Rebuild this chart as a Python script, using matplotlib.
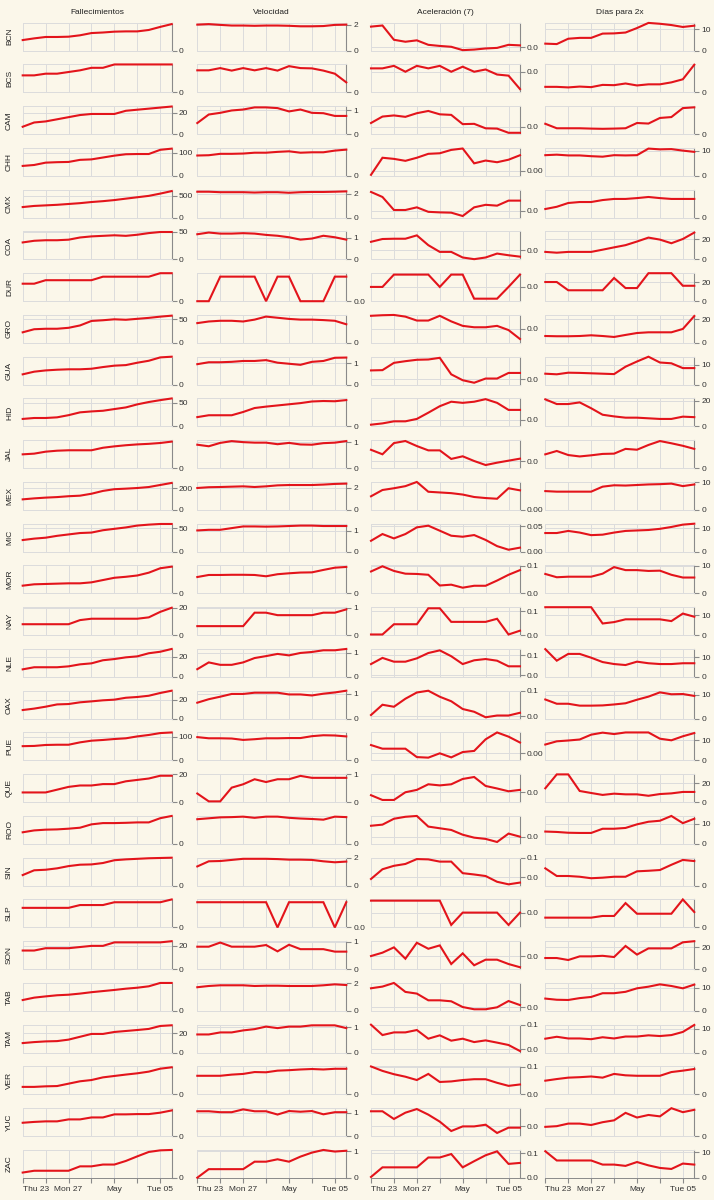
import matplotlib
matplotlib.use('Agg')
import matplotlib.pyplot as plt
import pandas as pd

plt.rcParams['font.family'] = ['Liberation Sans', 'DejaVu Sans']

estados = ['BCN', 'BCS', 'CAM', 'CHH', 'CMX', 'COA', 'DUR', 'GRO', 'GUA', 'HID',
           'JAL', 'MEX', 'MIC', 'MOR', 'NAY', 'NLE', 'OAX', 'PUE', 'QUE', 'ROO',
           'SIN', 'SLP', 'SON', 'TAB', 'TAM', 'VER', 'YUC', 'ZAC']
columnas = ['Fallecimientos', 'Velocidad', 'Aceleración (7)', 'Días para 2x']
fechas = pd.date_range('2020-04-23', periods=14)

# Fallecimientos acumulados
fallecimientos = [
    [76, 88, 98, 98, 100, 110, 126, 130, 136, 138, 138, 148, 170, 190],
    [6.1, 6.1, 6.7, 6.7, 7.3, 7.9, 8.8, 8.8, 10, 10, 10, 10, 10, 10],
    [7, 11, 12, 14, 16, 18, 19, 19, 19, 22, 23, 24, 25, 26],
    [43, 47, 57, 59, 60, 69, 71, 79, 87, 93, 94, 94, 112, 117],
    [245, 271, 284, 297, 316, 335, 361, 381, 406, 439, 471, 503, 555, 613],
    [31, 34, 35, 35, 36, 40, 42, 43, 44, 43, 45, 48, 50, 50],
    [5, 5, 6, 6, 6, 6, 6, 7, 7, 7, 7, 7, 8, 8],
    [22.5, 29, 30, 30, 32, 37, 46.5, 48, 50, 49, 51, 53, 55.6, 57.7],
    [14.8, 18.6, 20.4, 21.4, 22, 22, 22.8, 25.2, 27.2, 28, 31.4, 34.2, 39, 40],
    [16, 18, 18, 19.4, 24, 30, 32, 33.4, 37, 40.5, 47, 52, 56, 59.6],
    [49.5, 52, 59, 62.5, 64, 64, 64, 73, 78, 82, 85, 87, 90, 95],
    [98, 107, 114, 119, 127, 132, 150, 176, 192, 197, 203, 212, 231, 250],
    [25, 28, 30, 34, 37, 40, 41, 46, 49, 52, 56, 58, 59.4, 59.4],
    [16.7, 19.6, 20.3, 21, 21.7, 21.7, 23.8, 28.7, 33.6, 35.7, 38.5, 44.5, 54, 57.4],
    [8, 8, 8, 8, 8, 11, 12, 12, 12, 12, 12, 13, 17, 20],
    [7.6, 9.7, 9.7, 9.7, 10.6, 12.6, 13.6, 16.7, 17.9, 19.6, 20.6, 23.7, 25.2, 28],
    [9.1, 10.6, 12.6, 15, 15.4, 17.2, 18.2, 19.3, 20, 22, 22.8, 24.1, 27, 29.4],
    [60, 61, 65, 66, 66, 76, 83, 86, 90, 93, 101, 107, 115, 117.6],
    [7, 7, 7, 9, 11, 12, 12, 13, 13, 15, 16, 17, 19, 19],
    [25, 29, 30.6, 31.2, 32.7, 34.8, 42, 44.7, 44.7, 45.3, 46.2, 46.2, 55.2, 60],
    [30.4, 44, 45.6, 49.6, 56, 60, 60.8, 64.8, 72.8, 75.2, 76.8, 78.4, 79.2, 80],
    [7, 7, 7, 7, 7, 8, 8, 8, 9, 9, 9, 9, 9, 10],
    [16, 16, 18, 18, 18, 19, 20, 20, 23, 23, 23, 23, 23, 24],
    [46.8, 57, 62.4, 67.2, 69.6, 74.4, 80.4, 85.2, 90, 95.4, 99.6, 105.6, 120, 120],
    [9.8, 10.8, 11.5, 11.8, 13.3, 16.2, 19.1, 19.1, 21.1, 22.1, 23.1, 24.2, 27.2, 27.9],
    [16.2, 16.2, 17.4, 18, 23.1, 28.2, 30.9, 36.6, 39.6, 42.6, 45.3, 48.9, 55.2, 58.2],
    [24, 25.5, 26.5, 26.5, 30, 30, 33.5, 33.5, 39, 39, 39.5, 39.5, 42, 46],
    [2.7, 3.6, 3.6, 3.6, 3.6, 5.8, 5.8, 6.7, 6.7, 8.5, 10.8, 13, 13.8, 14],
]
fall_lim = [(0, 200), (0, 10), (0, 26.3), (0, 120), (0, 645), (0, 51), (0, 8),
            (0, 59.2), (0, 40), (0, 59.6), (0, 100), (0, 259), (0, 60), (0, 60),
            (0, 20.4), (0, 28), (0, 29.4), (0, 117.6), (0, 20.1), (0, 60), (0, 80),
            (0, 10), (0, 24), (0, 120), (0, 28.5), (0, 60), (0, 50), (0, 14)]
fall_ticks = [['0'], ['0'], ['0', '20'], ['0', '100'], ['0', '500'], ['0', '50'],
              ['0'], ['0', '50'], ['0'], ['0', '50'], ['0'], ['0', '200'],
              ['0', '50'], ['0'], ['0', '20'], ['0', '20'], ['0', '20'], ['0', '100'],
              ['0', '20'], ['0'], ['0'], ['0'], ['0', '20'], ['0'], ['0', '20'],
              ['0'], ['0'], ['0']]

# Velocidad
velocidad = [
    [2.02, 2.06, 2.0, 1.95, 1.95, 1.93, 1.95, 1.95, 1.93, 1.89, 1.89, 1.91, 2.0, 2.02],
    [0.79, 0.79, 0.87, 0.78, 0.87, 0.79, 0.87, 0.78, 0.94, 0.87, 0.86, 0.78, 0.67, 0.36],
    [0.47, 0.83, 0.90, 1.0, 1.04, 1.13, 1.13, 1.10, 0.96, 1.04, 0.90, 0.885, 0.77, 0.77],
    [1.46, 1.48, 1.58, 1.58, 1.6, 1.66, 1.66, 1.72, 1.76, 1.66, 1.69, 1.69, 1.81, 1.88],
    [2.19, 2.19, 2.15, 2.15, 2.15, 2.12, 2.15, 2.15, 2.10, 2.15, 2.17, 2.17, 2.19, 2.22],
    [1.17, 1.25, 1.2, 1.2, 1.22, 1.2, 1.14, 1.1, 1.03, 0.92, 0.97, 1.1, 1.03, 0.92],
    [0, 0, 0.5, 0.5, 0.5, 0.5, 0, 0.5, 0.5, 0, 0, 0, 0.5, 0.5],
    [0.85, 0.92, 0.95, 0.95, 0.92, 1.0, 1.13, 1.08, 1.03, 1.0, 1.0, 0.98, 0.95, 0.8],
    [0.96, 1.05, 1.05, 1.07, 1.11, 1.11, 1.15, 1.03, 0.98, 0.93, 1.07, 1.11, 1.26, 1.27],
    [0.4, 0.48, 0.48, 0.48, 0.62, 0.79, 0.85, 0.9, 0.95, 1.0, 1.07, 1.09, 1.08, 1.13],
    [0.91, 0.85, 0.98, 1.05, 1.01, 0.99, 0.99, 0.93, 0.98, 0.92, 0.91, 0.97, 0.99, 1.05],
    [2.0, 2.07, 2.09, 2.12, 2.15, 2.09, 2.15, 2.24, 2.27, 2.27, 2.27, 2.31, 2.37, 2.4],
    [1.01, 1.04, 1.04, 1.12, 1.2, 1.2, 1.19, 1.2, 1.22, 1.24, 1.24, 1.22, 1.22, 1.22],
    [0.88, 0.99, 0.99, 1.0, 1.0, 0.99, 0.92, 1.03, 1.08, 1.12, 1.13, 1.26, 1.38, 1.42],
    [0.33, 0.33, 0.33, 0.33, 0.33, 0.82, 0.82, 0.73, 0.73, 0.73, 0.73, 0.82, 0.82, 0.94],
    [0.32, 0.6, 0.5, 0.5, 0.6, 0.78, 0.86, 0.95, 0.89, 0.99, 1.03, 1.1, 1.1, 1.155],
    [0.64, 0.78, 0.88, 0.99, 0.99, 1.04, 1.04, 1.04, 0.97, 0.97, 0.93, 1.0, 1.05, 1.12],
    [1.0, 0.95, 0.95, 0.94, 0.88, 0.91, 0.95, 0.95, 0.96, 0.96, 1.04, 1.08, 1.07, 1.03],
    [0.31, 0.03, 0.03, 0.52, 0.64, 0.82, 0.72, 0.82, 0.82, 0.94, 0.87, 0.87, 0.87, 0.87],
    [1.06, 1.1, 1.14, 1.15, 1.17, 1.12, 1.17, 1.17, 1.12, 1.09, 1.07, 1.04, 1.17, 1.15],
    [1.39, 1.76, 1.78, 1.86, 1.94, 1.94, 1.94, 1.92, 1.88, 1.88, 1.86, 1.76, 1.69, 1.74],
    [0.5, 0.5, 0.5, 0.5, 0.5, 0.5, 0.5, 0, 0.5, 0.5, 0.5, 0.5, 0, 0.5],
    [0.82, 0.82, 0.97, 0.82, 0.82, 0.82, 0.88, 0.65, 0.89, 0.73, 0.73, 0.73, 0.64, 0.64],
    [1.72, 1.81, 1.86, 1.86, 1.86, 1.81, 1.83, 1.83, 1.81, 1.81, 1.81, 1.86, 1.93, 1.88],
    [0.72, 0.72, 0.8, 0.8, 0.88, 0.93, 1.03, 0.97, 1.03, 1.03, 1.08, 1.08, 1.08, 0.97],
    [0.8, 0.8, 0.8, 0.85, 0.88, 0.96, 0.95, 1.02, 1.04, 1.07, 1.09, 1.07, 1.1, 1.1],
    [1.06, 1.06, 1.02, 1.02, 1.14, 1.06, 1.06, 0.92, 1.07, 1.04, 1.07, 0.93, 1.02, 1.02],
    [0.01, 0.33, 0.33, 0.33, 0.33, 0.61, 0.61, 0.7, 0.61, 0.8, 0.95, 1.05, 0.99, 1.02],
]
vel_lim = [(0, 2.17), (0, 1.0), (0, 1.18), (0, 2.0), (0, 2.36), (0, 1.3), (0, 0.57),
           (0, 1.2), (0, 1.31), (0, 1.2), (0, 1.085), (0, 2.55), (0, 1.33), (0, 1.5),
           (0, 1.02), (0, 1.155), (0, 1.12), (0, 1.2), (0, 1.0), (0, 1.2), (0, 2.02),
           (0, 0.555), (0, 1.02), (0, 2.03), (0, 1.105), (0, 1.2), (0, 1.19), (0, 1.05)]
vel_ticks = [['0', '2'], ['0'], ['0', '1'], ['0'], ['0', '2'], ['0', '1'], ['0.0'],
             ['0'], ['0', '1'], ['0'], ['0', '1'], ['0', '2'], ['0', '1'], ['0'],
             ['0', '1'], ['0', '1'], ['0', '1'], ['0'], ['0', '1'], ['0'], ['0', '2'],
             ['0.0'], ['0', '1'], ['0', '2'], ['0', '1'], ['0'], ['0', '1'], ['0', '1']]

# Aceleración (7)
aceleracion = [
    [0.365, 0.385, 0.13, 0.095, 0.12, 0.04, 0.02, 0.005, -0.055, -0.045, -0.025, -0.015, 0.04, 0.03],
    [0.06, 0.06, 0.105, 0, 0.105, 0.06, 0.105, 0, 0.09, 0, 0.04, -0.05, -0.07, -0.31],
    [0.07, 0.185, 0.205, 0.18, 0.245, 0.285, 0.225, 0.215, 0.05, 0.055, -0.025, -0.03, -0.105, -0.105],
    [-0.015, 0.046, 0.042, 0.035, 0.046, 0.06, 0.062, 0.074, 0.079, 0.026, 0.036, 0.03, 0.039, 0.055],
    [0.335, 0.245, 0.0125, 0.0125, 0.06, -0.02, -0.03, -0.035, -0.095, 0.06, 0.105, 0.09, 0.18, 0.18],
    [0.15, 0.2, 0.205, 0.205, 0.265, 0.09, -0.03, -0.03, -0.13, -0.16, -0.13, -0.06, -0.09, -0.115],
    [0, 0, 0.44, 0.44, 0.44, 0.44, 0, 0.44, 0.44, -0.42, -0.42, -0.42, 0, 0.44],
    [0.23, 0.24, 0.245, 0.215, 0.145, 0.145, 0.23, 0.13, 0.05, 0.025, 0.025, 0.05, -0.025, -0.185],
    [0.155, 0.16, 0.29, 0.32, 0.345, 0.35, 0.38, 0.085, -0.02, -0.065, 0.01, 0.01, 0.11, 0.11],
    [-0.09, -0.067, -0.03, -0.03, 0.013, 0.124, 0.24, 0.32, 0.3, 0.32, 0.366, 0.3, 0.174, 0.174],
    [0.2, 0.12, 0.32, 0.357, 0.267, 0.19, 0.19, 0.037, 0.084, 0, -0.072, -0.03, 0.006, 0.042],
    [0.039, 0.057, 0.062, 0.068, 0.08, 0.052, 0.05, 0.048, 0.044, 0.037, 0.034, 0.032, 0.062, 0.056],
    [0.0215, 0.0348, 0.0262, 0.0348, 0.048, 0.0513, 0.0414, 0.0315, 0.0295, 0.0328, 0.0232, 0.011, 0.0039, 0.008],
    [0.08, 0.099, 0.082, 0.072, 0.071, 0.068, 0.029, 0.032, 0.021, 0.028, 0.028, 0.047, 0.068, 0.085],
    [0.003, 0.003, 0.046, 0.046, 0.046, 0.113, 0.113, 0.056, 0.056, 0.056, 0.056, 0.069, 0.003, 0.019],
    [0.0556, 0.0862, 0.0674, 0.0674, 0.084, 0.1104, 0.1236, 0.0945, 0.0556, 0.0743, 0.0806, 0.0723, 0.0445, 0.0445],
    [0.004, 0.045, 0.037, 0.069, 0.094, 0.101, 0.077, 0.059, 0.028, 0.017, -0.005, 0.002, 0.002, 0.013],
    [0.0295, 0.0165, 0.0165, 0.0165, -0.0135, -0.0155, 0, -0.0145, 0.0045, 0.0085, 0.05, 0.0745, 0.0595, 0.0385],
    [-0.05, -0.135, -0.135, 0.0025, 0.045, 0.145, 0.125, 0.145, 0.24, 0.275, 0.115, 0.07, 0.02, 0.045],
    [0.2, 0.22, 0.325, 0.36, 0.375, 0.185, 0.155, 0.125, 0.04, -0.0125, -0.035, -0.09, 0.06, 0.005],
    [-0.0086, 0.041, 0.0586, 0.068, 0.093, 0.0914, 0.08, 0.08, 0.021, 0.0143, 0.0064, -0.023, -0.036, -0.027],
    [0.427, 0.427, 0.427, 0.427, 0.427, 0.427, 0.427, -0.44, 0, 0, 0, 0, -0.44, 0],
    [0.005, 0.065, 0.16, -0.0425, 0.2425, 0.135, 0.195, -0.1375, 0.0525, -0.16, -0.06, -0.06, -0.1375, -0.195],
    [0.34, 0.37, 0.435, 0.275, 0.245, 0.125, 0.125, 0.1075, 0.005, -0.035, -0.035, 0, 0.1125, 0.04],
    [0.1, 0.058, 0.0688, 0.0688, 0.0784, 0.0432, 0.0568, 0.0352, 0.0432, 0.0295, 0.0364, 0.0273, 0.0176, -0.0068],
    [0.101, 0.085, 0.073, 0.064, 0.052, 0.074, 0.045, 0.047, 0.052, 0.055, 0.055, 0.042, 0.031, 0.036],
    [0.27, 0.27, 0.1325, 0.245, 0.31, 0.21, 0.085, -0.0825, 0, 0, 0.03, -0.1175, -0.0225, -0.0225],
    [0.004, 0.043, 0.043, 0.043, 0.043, 0.083, 0.083, 0.097, 0.043, 0.068, 0.092, 0.108, 0.057, 0.061],
]
acel_lim = [(-0.065, 0.435), (-0.37, 0.13), (-0.13, 0.37), (-0.019, 0.081),
            (-0.125, 0.375), (-0.165, 0.335), (-0.51, 0.49), (-0.255, 0.245),
            (-0.1, 0.4), (-0.1215, 0.3785), (-0.1285, 0.3715), (0, 0.08),
            (0, 0.0552), (0, 0.102), (0, 0.1176), (-0.0083, 0.1306),
            (-0.0107, 0.1011), (-0.0255, 0.0745), (-0.175, 0.325), (-0.125, 0.375),
            (-0.043, 0.1), (-0.53, 0.47), (-0.23, 0.27), (-0.065, 0.435),
            (-0.0136, 0.1), (0, 0.101), (-0.175, 0.325), (0, 0.1136)]
acel_ticks = [['0.0'], ['0.0'], ['0.0'], ['0.00'], ['0.0'], ['0.0'], ['0.0'],
              ['0.0'], ['0.0'], ['0.0'], ['0.0'], ['0.00'], ['0.00', '0.05'],
              ['0.0', '0.1'], ['0.0', '0.1'], ['0.0', '0.1'], ['0.0', '0.1'],
              ['0.00'], ['0.0'], ['0.0'], ['0.0', '0.1'], ['0.0'], ['0.0'], ['0.0'],
              ['0.0', '0.1'], ['0.0', '0.1'], ['0.0'], ['0.0', '0.1']]

# Días para 2x
dias = [
    [3.3, 3.1, 5.6, 6.0, 6.0, 8.0, 8.1, 8.5, 10.6, 13.0, 12.6, 12.0, 11.1, 11.7],
    [6, 6, 5.4, 6.3, 5.7, 8.1, 7.8, 9.6, 7.5, 8.7, 8.7, 10.8, 14.1, 29.7],
    [9.3, 5.3, 5.3, 5.3, 5, 4.8, 5, 5.3, 10, 9.5, 14.5, 15.3, 23.3, 24],
    [8.2, 8.4, 8.1, 8.1, 7.8, 7.6, 8.2, 8.1, 8.2, 10.8, 10.5, 10.6, 10.0, 9.5],
    [6.2, 7.8, 10.5, 11.2, 11.2, 12.6, 13.4, 13.4, 14, 14.8, 14, 13.4, 13.4, 13.4],
    [7.5, 6.7, 7.5, 7.5, 7.5, 9.7, 12, 14.2, 17.8, 21.7, 19.7, 16.1, 20.3, 26.7],
    [20, 20, 11.4, 11.4, 11.4, 11.4, 24.2, 13.7, 13.7, 29.2, 29.2, 29.2, 16.1, 16.1],
    [5.8, 5.6, 5.6, 5.8, 6.4, 5.8, 5, 6.7, 8.3, 8.9, 8.9, 8.9, 11.7, 22.5],
    [5.5, 5.2, 6, 5.9, 5.7, 5.5, 5.3, 9, 11.6, 14, 11.1, 10.7, 8.3, 8.3],
    [21.3, 17.6, 17.6, 18.9, 14.3, 9.2, 7.9, 6.9, 6.9, 6.4, 5.9, 5.9, 7.7, 7.3],
    [9.9, 12.3, 9.4, 8.4, 9.2, 10.2, 10.4, 13.8, 13.2, 16.6, 19.4, 17.8, 16, 13.8],
    [6.8, 6.6, 6.6, 6.6, 6.6, 8.4, 8.9, 8.8, 9, 9.2, 9.3, 9.5, 8.6, 9.2],
    [8, 8, 8.9, 8.2, 7.1, 7.3, 8.2, 8.9, 9.1, 9.3, 9.8, 10.6, 11.6, 12],
    [7.1, 5.9, 6.1, 6.1, 6.1, 7.2, 9.6, 8.5, 8.5, 8.2, 8.3, 6.8, 5.8, 5.8],
    [14.1, 14.1, 14.1, 14.1, 14.1, 5.9, 6.6, 8, 8, 8, 8, 7.1, 10.9, 9.3],
    [14, 8.2, 11.6, 11.6, 9.7, 7.5, 6.5, 6, 7.7, 6.9, 6.5, 6.5, 6.9, 6.9],
    [8.1, 6.3, 6.3, 5.5, 5.5, 5.6, 6, 6.5, 8, 9.3, 11.1, 10.3, 10.4, 9.6],
    [7.9, 9.5, 9.9, 10.4, 12.8, 13.8, 13.1, 13.9, 13.9, 13.9, 10.8, 10, 12, 13.6],
    [14.5, 29, 29, 11.7, 9.6, 7.6, 8.9, 8.2, 8.2, 6.7, 8.5, 9.2, 10.7, 10.7],
    [6.2, 6, 5.6, 5.5, 5.5, 7.6, 7.6, 8, 9.8, 11.1, 11.6, 14, 10.4, 12.6],
    [9.3, 5.2, 5.2, 4.8, 4, 4.3, 4.8, 4.8, 7.7, 8, 8.4, 11.2, 13.8, 13.2],
    [10.5, 10.5, 10.5, 10.5, 10.5, 12.3, 12.3, 26.1, 14.7, 14.7, 14.7, 14.7, 30, 16.5],
    [10.1, 10.1, 8.3, 11.6, 11.6, 12.1, 11, 21, 13.2, 18.8, 18.8, 18.8, 24.3, 25.3],
    [5.3, 4.8, 4.7, 5.5, 6, 7.6, 7.6, 8.2, 9.7, 10.4, 11.4, 10.7, 9.7, 11.3],
    [5.8, 6.6, 5.9, 5.9, 5.6, 6.4, 5.9, 6.7, 6.7, 7.2, 6.9, 7.3, 8.6, 11.5],
    [5.9, 6.6, 7.2, 7.4, 7.7, 7.2, 8.8, 8.2, 8, 8, 8, 9.6, 10.2, 10.9],
    [4, 4.3, 5.4, 5.4, 4.8, 6, 6.8, 10, 8, 9.1, 8.5, 12, 10.3, 11.3],
    [10.4, 6.8, 6.8, 6.8, 6.8, 5.2, 5.2, 4.7, 6.2, 4.9, 3.9, 3.5, 5.6, 5.2],
]
dias_lim = [(0, 13.1), (0, 30), (0, 25), (0, 11.05), (0, 20), (0, 27.8), (0, 29.2),
            (0, 23.4), (0, 14), (0, 22), (0, 20), (0, 10.1), (0, 12), (0, 10.2),
            (0, 14.1), (0, 14.1), (0, 11.8), (0, 13.9), (0, 29.2), (0, 14), (0, 15),
            (0, 30), (0, 25.3), (0, 12), (0, 11.6), (0, 12), (0, 12), (0, 10.9)]
dias_ticks = [['0', '10'], ['0'], ['0'], ['0', '10'], ['0'], ['0', '20'], ['0', '20'],
              ['0', '20'], ['0', '10'], ['0', '20'], ['0'], ['0', '10'], ['0', '10'],
              ['0', '10'], ['0', '10'], ['0', '10'], ['0', '10'], ['0', '10'],
              ['0', '20'], ['0', '10'], ['0'], ['0'], ['0', '20'], ['0', '10'],
              ['0', '10'], ['0'], ['0'], ['0', '10']]

series = [fallecimientos, velocidad, aceleracion, dias]
limites = [fall_lim, vel_lim, acel_lim, dias_lim]
marcas = [fall_ticks, vel_ticks, acel_ticks, dias_ticks]

fondo = '#fbf7ea'
rojo = '#e3141b'
rejilla = '#dcdcdc'
eje = '#8a8a8a'
texto = '#333333'
fs = 6

W, H = 714, 1200
fig = plt.figure(figsize=(W / 100, H / 100), dpi=100)
fig.patch.set_facecolor(fondo)

col_left = [22.7, 197.3, 371.0, 545.3]
pan_w, pan_h = 149, 28
top0, paso = 22.7, 41.75

for c, nombre in enumerate(columnas):
    fig.text((col_left[c] + pan_w / 2) / W, 1 - 12 / H, nombre,
             ha='center', va='center', fontsize=fs, color='#222222')

for r, est in enumerate(estados):
    top = top0 + r * paso
    fig.text(9.5 / W, 1 - (top + pan_h / 2) / H, est, rotation=90,
             ha='center', va='center', fontsize=fs, color='#222222')
    for c in range(4):
        ax = fig.add_axes([col_left[c] / W, 1 - (top + pan_h) / H, pan_w / W, pan_h / H])
        ax.set_facecolor(fondo)
        ax.plot(fechas, series[c][r], color=rojo, lw=1.5, clip_on=False,
                solid_joinstyle='miter', zorder=3)
        ax.set_xlim(fechas[0], fechas[-1])
        ax.set_ylim(*limites[c][r])
        ax.set_xticks(fechas[::2])
        etiquetas = marcas[c][r]
        ax.yaxis.tick_right()
        ax.set_yticks([float(t) for t in etiquetas])
        ax.set_yticklabels(etiquetas)
        ax.grid(color=rejilla, lw=0.7, zorder=0)
        for lado in ['left', 'top', 'bottom']:
            ax.spines[lado].set_color(rejilla)
            ax.spines[lado].set_linewidth(0.7)
        ax.spines['right'].set_color(eje)
        ax.spines['right'].set_linewidth(0.8)
        ax.tick_params(axis='y', length=3.5, width=0.8, color=eje, labelsize=fs,
                       labelcolor=texto, pad=1.5)
        if r == len(estados) - 1:
            nombres = [d.strftime('%b') if d.day == 1 else d.strftime('%a %d')
                       for d in fechas[::2]]
            nombres = [n if i % 2 == 0 else '' for i, n in enumerate(nombres)]
            ax.set_xticklabels(nombres)
            ax.spines['bottom'].set_color(eje)
            ax.tick_params(axis='x', length=3.5, width=0.8, color=eje, labelsize=fs,
                           labelcolor=texto, pad=2)
            ax.get_xticklabels()[0].set_ha('left')
        else:
            ax.tick_params(axis='x', length=0, labelbottom=False)

fig.savefig('out.png', dpi=100, facecolor=fondo)
